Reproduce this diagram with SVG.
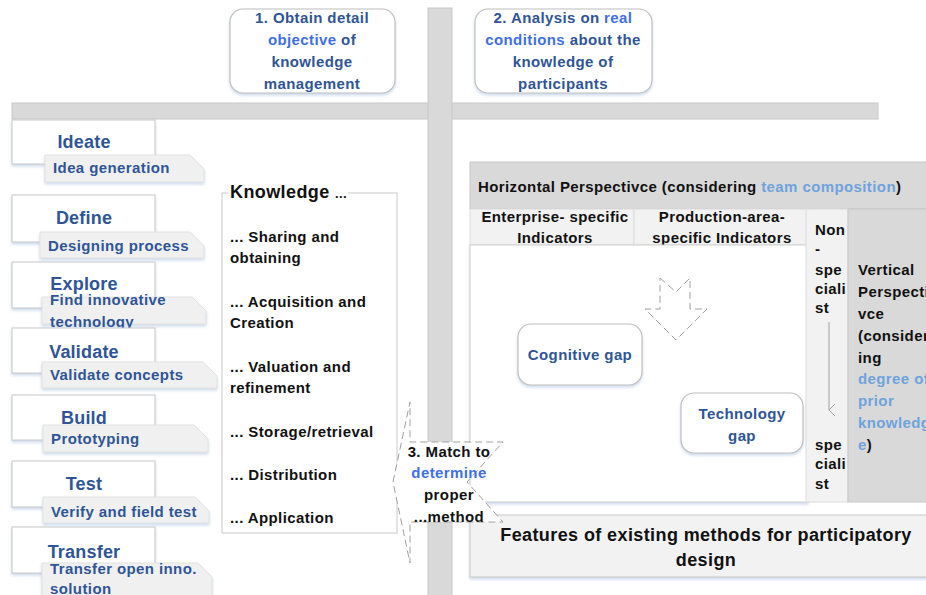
<svg xmlns="http://www.w3.org/2000/svg" width="926" height="595" viewBox="0 0 926 595">
<defs>
<filter id="sh" x="-10%" y="-10%" width="120%" height="130%">
<feDropShadow dx="0" dy="2" stdDeviation="1.5" flood-color="#9db8de" flood-opacity="0.5"/>
</filter>
<marker id="ah" markerWidth="12" markerHeight="12" refX="6" refY="10" orient="auto" markerUnits="userSpaceOnUse">
<path d="M0,4 L6,10 L12,4" fill="none" stroke="#a0a0a0" stroke-width="1"/>
</marker>
</defs>
<style>
text{font-family:"Liberation Sans",Arial,sans-serif;font-weight:bold;letter-spacing:0.4px}
.db{fill:#2f5597}
.bb{fill:#3f6fe8}
.lb{fill:#6fa3dc}
.k{fill:#111}
.box{fill:#fff;stroke:#c8c8c8;stroke-width:1}
.tag{fill:#f0f0f0;stroke:#e2e2e2;stroke-width:1}
.rbox{fill:#fff;stroke:#c0c0c0;stroke-width:1.2}
.bar{fill:#d9d9d9;stroke:#c8c8c8;stroke-width:1}
.dash{fill:#fff;stroke:#a0a0a0;stroke-width:1;stroke-dasharray:7,4}
.t18{font-size:18px;letter-spacing:0.2px}
.t15{font-size:15px}
.c{text-anchor:middle}
</style>

<g id="bars">
<rect class="bar" x="12" y="103" width="866" height="16"/>
<rect class="bar" x="428" y="8" width="24" height="590"/>
</g>

<g id="step1">
<rect class="rbox" x="230" y="9" width="165" height="84" rx="13" filter="url(#sh)"/>
<text class="t15 c db" x="312" y="23">1. Obtain detail</text>
<text class="t15 c db" x="312" y="45"><tspan class="bb">objective</tspan> of</text>
<text class="t15 c db" x="312" y="67">knowledge</text>
<text class="t15 c db" x="312" y="89">management</text>
</g>

<g id="step2">
<rect class="rbox" x="475" y="9" width="177" height="84" rx="13" filter="url(#sh)"/>
<text class="t15 c db" x="563" y="23">2. Analysis on <tspan class="bb">real</tspan></text>
<text class="t15 c db" x="563" y="45"><tspan class="bb">conditions</tspan> about the</text>
<text class="t15 c db" x="563" y="67">knowledge of</text>
<text class="t15 c db" x="563" y="89">participants</text>
</g>

<g id="ideate">
<rect class="box" x="12" y="120" width="143" height="44" filter="url(#sh)"/>
<text class="t18 c db" x="84" y="148">Ideate</text>
<polygon class="tag" points="45,155 190,155 204,169 204,182 45,182" filter="url(#sh)"/>
<text class="t15 db" x="53" y="173">Idea generation</text>
</g>
<g id="define">
<rect class="box" x="12" y="195" width="143" height="47" filter="url(#sh)"/>
<text class="t18 c db" x="84" y="224">Define</text>
<polygon class="tag" points="40,232 190,232 204,246 204,258 40,258" filter="url(#sh)"/>
<text class="t15 db" x="48" y="251">Designing process</text>
</g>
<g id="explore">
<rect class="box" x="12" y="262" width="143" height="46" filter="url(#sh)"/>
<text class="t18 c db" x="84" y="290">Explore</text>
<polygon class="tag" points="42,297 192,297 206,311 206,324 42,324" filter="url(#sh)"/>
<text class="t15 db" x="50" y="305">Find innovative</text>
<text class="t15 db" x="50" y="327">technology</text>
</g>
<g id="validate">
<rect class="box" x="12" y="328" width="143" height="45" filter="url(#sh)"/>
<text class="t18 c db" x="84" y="358">Validate</text>
<polygon class="tag" points="42,362 203,362 217,376 217,388 42,388" filter="url(#sh)"/>
<text class="t15 db" x="50" y="380">Validate concepts</text>
</g>
<g id="build">
<rect class="box" x="12" y="395" width="143" height="45" filter="url(#sh)"/>
<text class="t18 c db" x="84" y="424">Build</text>
<polygon class="tag" points="43,425 194,425 208,439 208,452 43,452" filter="url(#sh)"/>
<text class="t15 db" x="51" y="444">Prototyping</text>
</g>
<g id="test">
<rect class="box" x="12" y="461" width="143" height="46" filter="url(#sh)"/>
<text class="t18 c db" x="84" y="490">Test</text>
<polygon class="tag" points="43,497 195,497 209,511 209,523 43,523" filter="url(#sh)"/>
<text class="t15 db" x="51" y="517">Verify and field test</text>
</g>
<g id="transfer">
<rect class="box" x="12" y="527" width="143" height="46" filter="url(#sh)"/>
<text class="t18 c db" x="84" y="558">Transfer</text>
<polygon class="tag" points="42,563 198,563 212,577 212,598 42,598" filter="url(#sh)"/>
<text class="t15 db" x="50" y="574">Transfer open inno.</text>
<text class="t15 db" x="50" y="594">solution</text>
</g>

<g id="knowledge">
<rect class="box" x="222" y="193" width="175" height="340"/>
<rect x="228" y="186" width="120" height="12" fill="#fff"/>
<text class="k" x="230" y="198" font-size="18" letter-spacing="0.2">Knowledge <tspan font-size="13">...</tspan></text>
<text class="t15 k" x="230" y="242">... Sharing and</text>
<text class="t15 k" x="230" y="263">obtaining</text>
<text class="t15 k" x="230" y="307">... Acquisition and</text>
<text class="t15 k" x="230" y="328">Creation</text>
<text class="t15 k" x="230" y="372">... Valuation and</text>
<text class="t15 k" x="230" y="393">refinement</text>
<text class="t15 k" x="230" y="437">... Storage/retrieval</text>
<text class="t15 k" x="230" y="480">... Distribution</text>
<text class="t15 k" x="230" y="523">... Application</text>
</g>

<g id="horizontal">
<rect x="470" y="162" width="460" height="47" fill="#d9d9d9" stroke="#c8c8c8"/>
<text class="t15 k" x="478" y="192">Horizontal Perspectivce (considering <tspan class="lb">team composition</tspan>)</text>
<rect x="470" y="209" width="164" height="36" fill="#f2f2f2" stroke="#dcdcdc"/>
<rect x="634" y="209" width="174" height="36" fill="#f2f2f2" stroke="#dcdcdc"/>
<text class="t15 c k" x="555" y="222">Enterprise- specific</text>
<text class="t15 c k" x="555" y="243">Indicators</text>
<text class="t15 c k" x="722" y="222">Production-area-</text>
<text class="t15 c k" x="722" y="243">specific Indicators</text>
</g>

<g id="panel">
<rect x="470" y="245" width="338" height="257" fill="#fff" stroke="#cfcfcf" filter="url(#sh)"/>
</g>

<g id="nonspecialist">
<rect x="806" y="209" width="42" height="293" fill="#f2f2f2" stroke="#dcdcdc"/>
<text class="t15 k" x="815" y="235">Non</text>
<text class="t15 k" x="815" y="254">-</text>
<text class="t15 k" x="815" y="275">spe</text>
<text class="t15 k" x="815" y="294">ciali</text>
<text class="t15 k" x="815" y="313">st</text>
<text class="t15 k" x="815" y="450">spe</text>
<text class="t15 k" x="815" y="469">ciali</text>
<text class="t15 k" x="815" y="489">st</text>
</g>

<g id="vertical">
<rect x="848" y="209" width="82" height="293" fill="#d9d9d9" stroke="#c8c8c8"/>
<text class="t15 k" x="858" y="275">Vertical</text>
<text class="t15 k" x="858" y="297">Perspecti</text>
<text class="t15 k" x="858" y="319">vce</text>
<text class="t15 k" x="858" y="341">(consider</text>
<text class="t15 k" x="858" y="363">ing</text>
<text class="t15 lb" x="858" y="384">degree of</text>
<text class="t15 lb" x="858" y="406">prior</text>
<text class="t15 lb" x="858" y="428">knowledg</text>
<text class="t15 k" x="858" y="450"><tspan class="lb">e</tspan>)</text>
</g>

<g id="cognitive">
<rect class="rbox" x="518" y="324" width="124" height="61" rx="13" filter="url(#sh)"/>
<text class="t15 c db" x="580" y="360" letter-spacing="0.1">Cognitive gap</text>
</g>
<g id="technology">
<rect class="rbox" x="681" y="393" width="122" height="60" rx="13" filter="url(#sh)"/>
<text class="t15 c db" x="742" y="419">Technology</text>
<text class="t15 c db" x="742" y="441">gap</text>
</g>

<g id="features">
<rect x="470" y="515" width="460" height="62" fill="#f2f2f2" stroke="#c8c8c8" filter="url(#sh)"/>
<text class="c k" x="706" y="541" font-size="18">Features of existing methods for participatory</text>
<text class="c k" x="706" y="566" font-size="18">design</text>
</g>

<g id="connectors">
<line x1="829" y1="322" x2="829" y2="410" stroke="#a0a0a0" stroke-width="1" marker-end="url(#ah)"/>
<polygon class="dash" points="660,278 676,292 690,278 690,309 707,309 676,340 645,309 660,309"/>
<polygon class="dash" points="393,482 410,402 410,442 503,442 467,482 503,522 410,522 410,563"/>
</g>

<g id="match">
<text class="t15 c k" x="449" y="457">3. Match to</text>
<text class="t15 c bb" x="449" y="478">determine</text>
<text class="t15 c k" x="449" y="500">proper</text>
<text class="t15 c k" x="449" y="522">...method</text>
</g>
</svg>
